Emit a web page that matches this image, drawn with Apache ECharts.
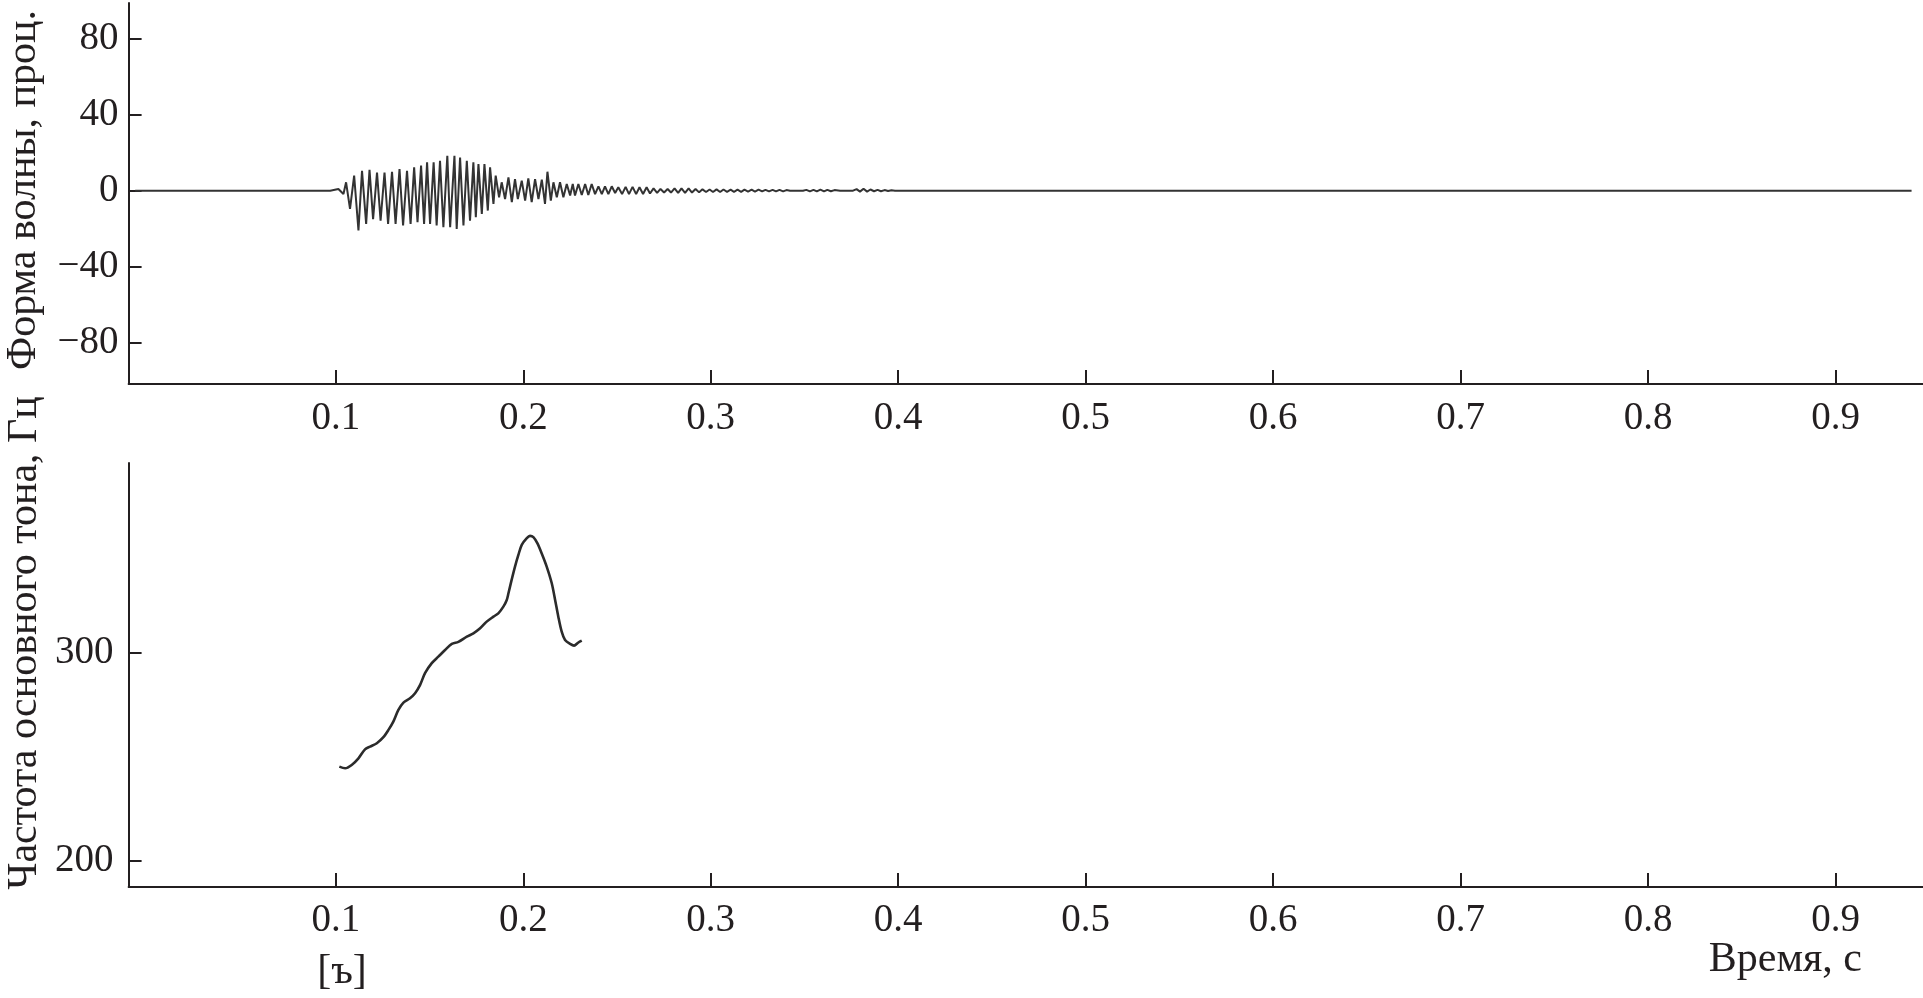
<!DOCTYPE html>
<html>
<head>
<meta charset="utf-8">
<script src="https://cdn.jsdelivr.net/npm/echarts@6/dist/echarts.min.js"></script>
<style>
html,body{margin:0;padding:0;background:#fff;}
#chart{width:1923px;height:998px;}
</style>
</head>
<body>
<div id="chart"></div>
<script>
// ---- data ----
const xTicks = [0.1, 0.2, 0.3, 0.4, 0.5, 0.6, 0.7, 0.8, 0.9];
const waveTicks = [-80, -40, 0, 40, 80];
const pitchTicks = [200, 300];

const waveTime = [-0.007, 0.0970, 0.1014, 0.1041, 0.1055, 0.1076, 0.1098, 0.1121, 0.1140, 0.1162,
  0.1180, 0.1199, 0.1220, 0.1239, 0.1260, 0.1279, 0.1300, 0.1319, 0.1340, 0.1359,
  0.1380, 0.1399, 0.1418, 0.1436, 0.1455, 0.1471, 0.1487, 0.1503, 0.1522, 0.1538,
  0.1556, 0.1574, 0.1595, 0.1610, 0.1633, 0.1645, 0.1663, 0.1681, 0.1699, 0.1716,
  0.1734, 0.1747, 0.1761, 0.1779, 0.1793, 0.1811, 0.1823, 0.1841, 0.1853, 0.1871,
  0.1885, 0.1903, 0.1921, 0.1939, 0.1956, 0.1971, 0.1992, 0.2010, 0.2027, 0.2045,
  0.2063, 0.2081, 0.2099, 0.2116, 0.2129, 0.2147, 0.2161, 0.2179, 0.2196, 0.2214,
  0.2232, 0.2250, 0.2264, 0.2276, 0.2294, 0.2312, 0.2330, 0.2347, 0.2365, 0.2383,
  0.2401, 0.2419, 0.2436, 0.2454, 0.2472, 0.2490, 0.2507, 0.2527, 0.2546, 0.2564,
  0.2583, 0.2602, 0.2620, 0.2639, 0.2658, 0.2676, 0.2695, 0.2714, 0.2732, 0.2751,
  0.2770, 0.2788, 0.2807, 0.2826, 0.2844, 0.2863, 0.2882, 0.2900, 0.2919, 0.2938,
  0.2956, 0.2975, 0.2994, 0.3012, 0.3031, 0.3050, 0.3068, 0.3087, 0.3106, 0.3124,
  0.3143, 0.3162, 0.3180, 0.3199, 0.3218, 0.3236, 0.3255, 0.3274, 0.3292, 0.3311,
  0.3330, 0.3348, 0.3367, 0.3386, 0.3404, 0.3423, 0.3492, 0.3510, 0.3529, 0.3548,
  0.3566, 0.3585, 0.3604, 0.3622, 0.3641, 0.3660, 0.3690, 0.3759, 0.3778, 0.3796,
  0.3815, 0.3834, 0.3852, 0.3871, 0.3890, 0.3908, 0.3927, 0.3946, 0.3964, 0.3983,
  0.9405];
const waveValue = [0, 0, 0.9, -1.8, 4.4, -9.6, 7.9, -21, 10.5, -17.5,
  11, -15, 9.6, -15.8, 9.6, -17.5, 10, -17.5, 11.4, -18.4,
  10.5, -17.5, 12.3, -16.7, 13.2, -17.5, 14.9, -17.5, 14.9, -18.4,
  15.8, -19.3, 18.4, -19.3, 18.4, -20.2, 17.5, -18.4, 15.8, -15.8,
  14.9, -14, 14, -12.3, 14, -10.5, 12.3, -7, 7.9, -3.5,
  4.4, -4.4, 7, -6.1, 6.1, -4.4, 5.3, -5.3, 6.5, -6.1,
  6.1, -4.4, 5.8, -7, 10, -5.3, 4.4, -3.5, 4.4, -3.5,
  3.5, -2.6, 3.5, -2.6, 3.5, -2.3, 3.5, -2.3, 3.5, -1.8,
  2.3, -1.8, 2.3, -1.8, 2.3, -1.2, 1.8, -1.8, 2, -1.8,
  2, -1.8, 1.8, -1.8, 1.8, -1.5, 1.2, -1.2, 0.9, -1,
  0.9, -1, 1.2, -1.2, 1.2, -1.2, 1.2, -1, 0.9, -0.9,
  0.7, -0.7, 0.6, -0.7, 0.7, -0.7, 0.6, -0.6, 0.5, -0.6,
  0.5, -0.6, 0.5, -0.5, 0.5, -0.5, 0.5, -0.4, 0.4, -0.4,
  0.4, -0.4, 0.4, -0.4, 0.3, 0, 0, 0.4, -0.4, 0.4,
  -0.4, 0.5, -0.4, 0.4, -0.3, 0.3, 0, 0, 0.8, -0.5,
  1.0, -0.5, 0.6, -0.3, 0.4, -0.3, 0.3, -0.2, 0.2, 0,
  0];

const pitchTime = [0.1019, 0.1050, 0.1085, 0.1121, 0.1156, 0.1183, 0.1219, 0.1254, 0.1281, 0.1307,
  0.1334, 0.1361, 0.1396, 0.1423, 0.1450, 0.1476, 0.1512, 0.1547, 0.1583, 0.1619,
  0.1654, 0.1699, 0.1734, 0.1770, 0.1805, 0.1841, 0.1867, 0.1894, 0.1912, 0.1921,
  0.1938, 0.1956, 0.1974, 0.1992, 0.2019, 0.2036, 0.2054, 0.2075, 0.2098, 0.2125,
  0.2152, 0.2170, 0.2187, 0.2205, 0.2223, 0.2250, 0.2271, 0.2294, 0.2312];
const pitchHz = [245.3, 244.5, 246.1, 249.3, 253.6, 254.9, 256.5, 259.4, 262.9, 266.9,
  272.5, 276.0, 278.1, 280.5, 284.5, 290.1, 294.9, 298.0, 301.2, 304.1,
  305.1, 307.6, 309.2, 311.6, 314.8, 317.2, 318.8, 322.0, 325.2, 328.4,
  334.8, 341.2, 346.8, 351.6, 354.8, 355.9, 355.3, 352.4, 347.6, 341.2,
  333.2, 325.2, 317.2, 310.0, 306.0, 304.1, 303.3, 304.8, 305.7];

const waveName = 'Форма волны, проц.';
const pitchName = 'Частота основного тона, Гц';
const timeName = 'Время, с';
const soundLabel = '[ъ]';

// ---- chart ----
const FONT = '"Liberation Serif", "Times New Roman", serif';
const INK = '#231f20';
const axisLineStyle = { show: true, onZero: false, lineStyle: { color: INK, width: 2 } };
const fmtMinus = v => (v < 0 ? '\u2212' + Math.abs(v) : String(v));

const chart = echarts.init(document.getElementById('chart'), null, { renderer: 'canvas' });

function xAxisDef(gridIndex, margin) {
  return {
    type: 'value', gridIndex: gridIndex,
    min: -0.0105, max: 0.9466,
    axisLine: axisLineStyle,
    axisTick: { show: true, inside: true, length: 14, customValues: xTicks, lineStyle: { color: INK, width: 2 } },
    axisLabel: { customValues: xTicks, formatter: v => v.toFixed(1), fontFamily: FONT, fontSize: 39, color: INK, margin: margin },
    splitLine: { show: false }
  };
}

chart.setOption({
  animation: false,
  backgroundColor: '#ffffff',
  grid: [
    { left: 128.6, right: 0, top: 3, height: 381, containLabel: false },
    { left: 128.6, right: 0, top: 463.1, height: 423.9, containLabel: false }
  ],
  xAxis: [xAxisDef(0, 15), xAxisDef(1, 14)],
  yAxis: [
    {
      type: 'value', gridIndex: 0, min: -102, max: 99,
      axisLine: axisLineStyle,
      axisTick: { show: true, inside: true, length: 13, customValues: waveTicks, lineStyle: { color: INK, width: 2 } },
      axisLabel: { customValues: waveTicks, formatter: fmtMinus, fontFamily: FONT, fontSize: 39, color: INK, margin: 10 },
      splitLine: { show: false }
    },
    {
      type: 'value', gridIndex: 1, min: 187.6, max: 390.8,
      axisLine: axisLineStyle,
      axisTick: { show: true, inside: true, length: 13, customValues: pitchTicks, lineStyle: { color: INK, width: 2 } },
      axisLabel: { customValues: pitchTicks, formatter: v => String(v), fontFamily: FONT, fontSize: 39, color: INK, margin: 15 },
      splitLine: { show: false }
    }
  ],
  series: [
    {
      type: 'line', xAxisIndex: 0, yAxisIndex: 0,
      data: waveTime.map((t, i) => [t, waveValue[i]]),
      showSymbol: false, symbol: 'none',
      lineStyle: { color: '#333333', width: 2 },
      z: 3
    },
    {
      type: 'line', xAxisIndex: 1, yAxisIndex: 1,
      data: pitchTime.map((t, i) => [t, pitchHz[i]]),
      showSymbol: false, symbol: 'none', smooth: 0.3,
      lineStyle: { color: '#2b2b2b', width: 2.6 },
      z: 3
    }
  ],
  graphic: [
    { type: 'text', x: 24, y: 190, rotation: Math.PI / 2,
      style: { text: waveName, font: '42px ' + FONT, fill: INK, align: 'center', verticalAlign: 'middle' } },
    { type: 'text', x: 25, y: 643, rotation: Math.PI / 2,
      style: { text: pitchName, font: '42px ' + FONT, fill: INK, align: 'center', verticalAlign: 'middle' } },
    { type: 'text', x: 1862, y: 960,
      style: { text: timeName, font: '42px ' + FONT, fill: INK, align: 'right', verticalAlign: 'middle' } },
    { type: 'text', x: 342, y: 972,
      style: { text: soundLabel, font: '42px ' + FONT, fill: INK, align: 'center', verticalAlign: 'middle' } }
  ]
});
</script>
</body>
</html>
